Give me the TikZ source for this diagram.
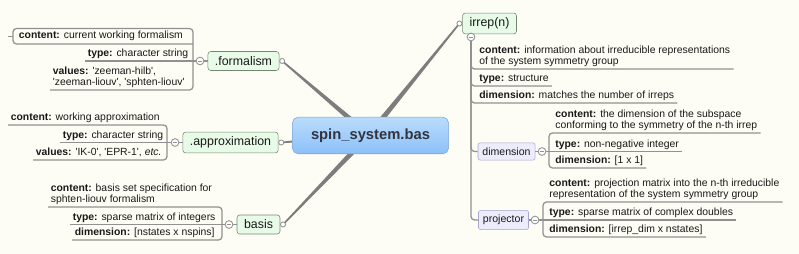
\documentclass[tikz,border=0pt]{standalone}
\usepackage{fontspec}
\setmainfont{Liberation Sans}
\usepackage{tikz}
\usetikzlibrary{calc}
\usepackage{xcolor}
\definecolor{Paper}{RGB}{253, 253, 245}
\definecolor{LeafGrey}{RGB}{145, 145, 145}
\definecolor{TrunkGrey}{RGB}{125, 125, 125}
\definecolor{InkDark}{RGB}{25, 25, 25}
\definecolor{TopicGreen}{RGB}{232, 251, 232}
\definecolor{TopicEdge}{RGB}{115, 135, 115}
\definecolor{SubBlue}{RGB}{236, 236, 252}
\definecolor{SubEdge}{RGB}{165, 165, 205}
\definecolor{HubTop}{RGB}{186, 220, 252}
\definecolor{HubBottom}{RGB}{140, 192, 248}
\definecolor{HubEdge}{RGB}{128, 166, 212}
\newcommand\leaffont{\fontsize{7.4}{8.2}\selectfont}
\newcommand\sq[1]{\textquotesingle#1\textquotesingle}

\begin{document}
\begin{tikzpicture}[x=0.025cm, y=-0.025cm,
            hub/.style={draw=HubEdge, rounded corners=4pt, top color=HubTop, bottom color=HubBottom, minimum width=111pt, minimum height=26pt, font=\fontsize{10.5}{12}\selectfont\bfseries, text={rgb,255:red,50;green,52;blue,62}},
            topic/.style={draw=TopicEdge, fill=TopicGreen, rounded corners=2pt, minimum height=13.5pt, inner xsep=5pt, font=\fontsize{8.8}{10}\selectfont, text=InkDark},
            subtopic/.style={draw=SubEdge, fill=SubBlue, rounded corners=1.5pt, minimum height=11pt, inner xsep=3.2pt, font=\fontsize{7.5}{9}\selectfont, text=InkDark},
            leaf/.style={anchor=south west, inner xsep=1.8pt, inner ysep=0.4pt, align=left, font=\leaffont, text=InkDark, execute at end node=\strut},
            leafline/.style={draw=LeafGrey, line width=0.9pt, rounded corners=2.5pt},
            trunk/.style={fill=TrunkGrey},
            knob/.style={circle, draw=LeafGrey, fill=white, line width=0.6pt, inner sep=0pt, minimum size=3.6pt},
            fold/.style={circle, draw=LeafGrey, fill=white, line width=0.6pt, inner sep=0pt, minimum size=5.5pt,
                path picture={\draw[LeafGrey, line width=0.6pt] ([xshift=1.3pt]path picture bounding box.west) -- ([xshift=-1.3pt]path picture bounding box.east);}}
        ]

        % Paper
        \fill[Paper] (0,0) rectangle (799,254);
        \useasboundingbox (0,0) rectangle (799,254);

        % Main topics
        \node[topic] (form) at (243.5,61) {.formalism};
        \node[topic] (appr) at (230.5,142.5) {.approximation};
        \node[topic] (basis) at (258.5,224.5) {basis};
        \node[topic] (irrep) at (489.5,23.5) {irrep(n)};

        % Trunks from the hub
        \coordinate (hubc) at (369,135);
        \coordinate (fend) at ([xshift=2pt]form.east);
        \coordinate (aend) at ([xshift=2pt]appr.east);
        \coordinate (bend) at ([xshift=2pt]basis.east);
        \coordinate (iend) at ([xshift=-2pt]irrep.west);
        \foreach \e in {fend, aend, bend, iend}
            \fill[trunk] ($(hubc)!2pt!90:(\e)$) -- ($(\e)!0.55pt!-90:(hubc)$) -- ($(\e)!0.55pt!90:(hubc)$) -- ($(hubc)!2pt!-90:(\e)$) -- cycle;
        \foreach \e in {fend, aend, bend, iend}
            \node[knob] at (\e) {};

        \node[hub] (sys) at (370.5,135.5) {spin\_system.bas};

        % .formalism
        \coordinate (fbr) at (193,61);
        \node[leaf, inner xsep=4pt, inner ysep=1.2pt] (fc) at (13,44) {\textbf{content:} current working formalism};
        \node[leaf] (ft) at (85,61) {\textbf{type:} character string};
        \node[leaf] (fv) at (50,90) {\textbf{values:} \sq{zeeman-hilb},\\\sq{zeeman-liouv}, \sq{sphten-liouv}};
        \draw[leafline] (fbr) |- (fc.north west) -- (fc.south west) -- (fc.south -| fbr);
        \draw[leafline] (fc.west) -- ++(-5,0);
        \draw[leafline] (fbr) -- (ft.south west);
        \draw[leafline] (fbr) |- (fv.south west);
        \draw[leafline] (fbr) -- (form);
        \node[fold] at (200,61) {};

        % .approximation
        \coordinate (abr) at (167,142.5);
        \node[leaf] (ac) at (8,125) {\textbf{content:} working approximation};
        \node[leaf] (at) at (60,142.5) {\textbf{type:} character string};
        \node[leaf] (av) at (33,160) {\textbf{values:} \sq{IK-0}, \sq{EPR-1}, \textit{etc.}};
        \draw[leafline] (abr) |- (ac.south west);
        \draw[leafline] (abr) -- (at.south west);
        \draw[leafline] (abr) |- (av.south west);
        \draw[leafline] (abr) -- (appr);
        \node[fold] at (175,142.5) {};

        % basis
        \coordinate (bbr) at (222,224.5);
        \node[leaf] (bc) at (48,207) {\textbf{content:} basis set specification for\\sphten-liouv formalism};
        \node[leaf] (bt) at (70,224.5) {\textbf{type:} sparse matrix of integers};
        \node[leaf] (bd) at (72,240) {\textbf{dimension:} [nstates x nspins]};
        \draw[leafline] (bbr) |- (bc.south west);
        \draw[leafline] (bbr) -- (bt.south west);
        \draw[leafline] (bbr) |- (bd.south west);
        \draw[leafline] (bbr) -- (basis);
        \node[fold] at (229,224.5) {};

        % irrep(n)
        \coordinate (imin) at (471,37);
        \node[subtopic] (dim) at (506.5,151.5) {dimension};
        \node[subtopic] (proj) at (503.5,220) {projector};
        \node[leaf, inner xsep=2.2pt] (ic) at (476,69) {\textbf{content:} information about irreducible representations\\of the system symmetry group};
        \node[leaf, inner xsep=2.2pt] (it) at (476,86) {\textbf{type:} structure};
        \node[leaf, inner xsep=2.2pt] (id) at (476,103) {\textbf{dimension:} matches the number of irreps};
        \draw[leafline] (imin) -- (imin |- irrep.south);
        \draw[leafline] (imin) |- (ic.south east);
        \draw[leafline] (imin) |- (it.south east);
        \draw[leafline] (imin) |- (id.south east);
        \draw[leafline] (imin) |- (dim.west);
        \draw[leafline] (imin) |- (proj.west);
        \node[fold] at (imin) {};

        % dimension
        \coordinate (dbr) at (549,151.5);
        \node[leaf, inner xsep=2.2pt] (dc) at (552,133) {\textbf{content:} the dimension of the subspace\\conforming to the symmetry of the n-th irrep};
        \node[leaf, inner xsep=2.2pt] (dt) at (552,151.5) {\textbf{type:} non-negative integer};
        \node[leaf, inner xsep=2.2pt] (dd) at (552,168) {\textbf{dimension:} [1 x 1]};
        \draw[leafline] (dbr) |- (dc.south east);
        \draw[leafline] (dbr) -- (dt.south east);
        \draw[leafline] (dbr) |- (dd.south east);
        \draw[leafline] (dim) -- (dbr);
        \node[fold] at (542,151.5) {};

        % projector
        \coordinate (pbr) at (543,220);
        \node[leaf, inner xsep=2.2pt] (pc) at (546,202) {\textbf{content:} projection matrix into the n-th irreducible\\representation of the system symmetry group};
        \node[leaf, inner xsep=2.2pt] (pt) at (546,220) {\textbf{type:} sparse matrix of complex doubles};
        \node[leaf, inner xsep=2.2pt] (pd) at (546,237) {\textbf{dimension:} [irrep\_dim x nstates]};
        \draw[leafline] (pbr) |- (pc.south east);
        \draw[leafline] (pbr) -- (pt.south east);
        \draw[leafline] (pbr) |- (pd.south east);
        \draw[leafline] (proj) -- (pbr);
        \node[fold] at (535,220) {};

        \end{tikzpicture}
\end{document}
